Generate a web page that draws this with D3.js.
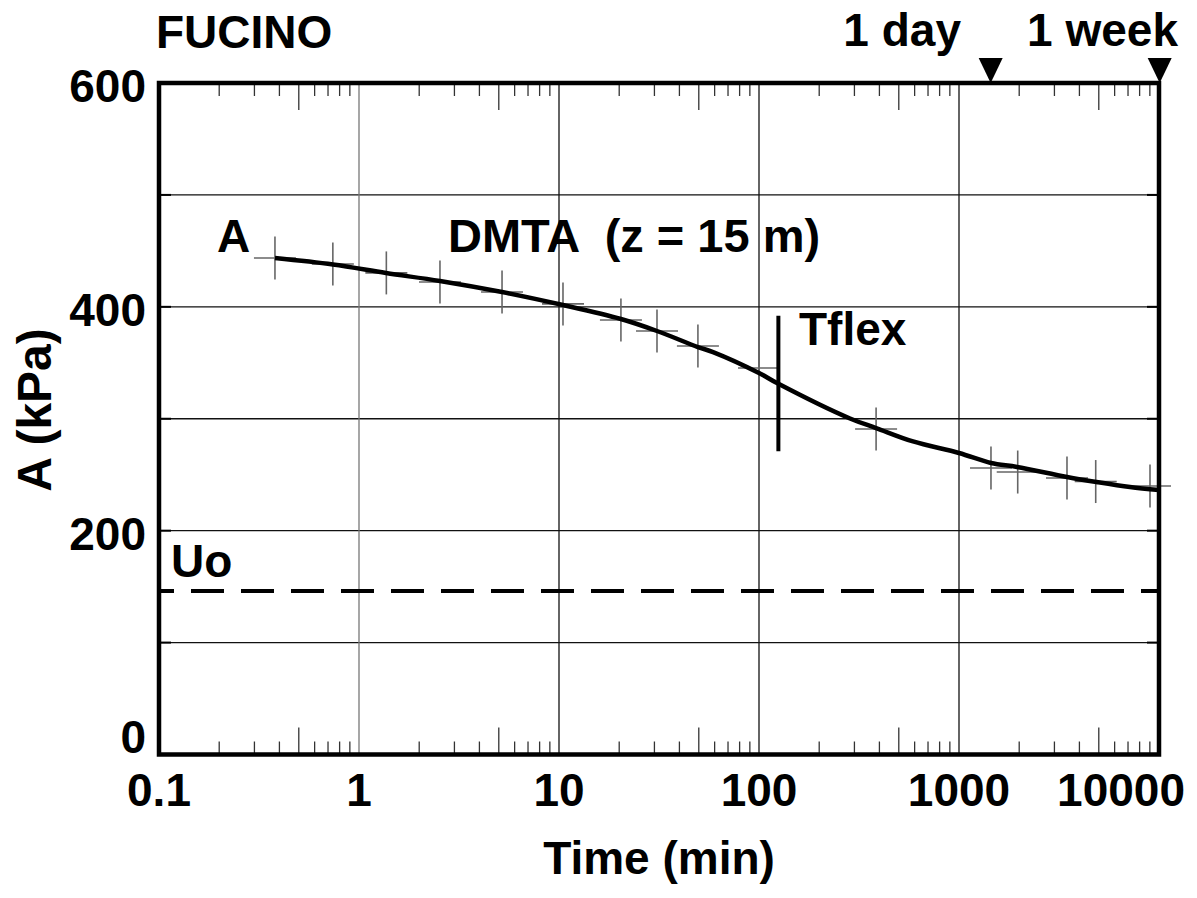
<!DOCTYPE html>
<html>
<head>
<meta charset="utf-8">
<script src="https://cdn.jsdelivr.net/npm/d3@7"></script>
<style>
  body { margin: 0; background: #fff; }
  text { font-family: "Liberation Sans", Arial, sans-serif; font-weight: bold; fill: #000; }
</style>
</head>
<body>
<svg id="chart" width="1197" height="898"></svg>
<script>
// measured points (crosses)
const pointTime = [0.38, 0.74, 1.37, 2.54, 5.19, 10.47, 20.4, 30.9, 49.5, 100, 385, 1445, 1966, 3467, 4826, 9016]
const pointA = [443.6, 438.3, 430.3, 422.2, 413.3, 402.6, 388.3, 378.4, 365.0, 345.4, 290.9, 256.0, 252.4, 247.1, 243.9, 239.9]

// fitted DMTA curve
const curveTime = [0.38, 0.741, 1.365, 2.54, 5.19, 10.47, 20.4, 30.9, 49.5, 58.9, 100, 123, 285, 385, 589, 1000, 1445, 1950, 3467, 4870, 7160, 10000]
const curveA = [443.6, 437.8, 430.2, 423.1, 413.2, 401.6, 389.1, 378.4, 364.1, 359.6, 340.9, 331.9, 300.2, 291.7, 279.7, 269.4, 260.5, 256.9, 248.0, 243.5, 239.0, 236.3]

const xTickValues = [0.1, 1, 10, 100, 1000, 10000]
const xTickLabels = ["0.1", "1", "10", "100", "1000", "10000"]
const yTickValues = [0, 200, 400, 600]
const yGrid = [100, 200, 300, 400, 500]

const uo = 146
const tflexTime = 125
const tflexRange = [271, 392]
const markers = [{label: "1 day", t: 1440}, {label: "1 week", t: 10080}]

const pLeft = 159, pRight = 1159, pTop = 83, pBottom = 754.5

const svg = d3.select("#chart")

const x = d3.scaleLog().domain([0.1, 10000]).range([pLeft, pRight])
const y = d3.scaleLinear().domain([0, 600]).range([pBottom, pTop])

// grid
svg.append("g")
   .selectAll("line")
   .data(yGrid)
   .join("line")
   .attr("x1", pLeft).attr("x2", pRight)
   .attr("y1", d => y(d)).attr("y2", d => y(d))
   .style("stroke", "#111").style("stroke-width", 1.3)

svg.append("g")
   .selectAll("line")
   .data(xTickValues.slice(1, 5))
   .join("line")
   .attr("x1", d => x(d)).attr("x2", d => x(d))
   .attr("y1", pTop).attr("y2", pBottom)
   .style("stroke", (d, i) => i == 0 ? "#777" : "#111").style("stroke-width", 1.3)

// y ticks inside, both sides
let yt = svg.append("g")
yt.selectAll(".yl")
  .data(yGrid)
  .join("line")
  .attr("x1", pLeft).attr("x2", pLeft + 12)
  .attr("y1", d => y(d)).attr("y2", d => y(d))
  .style("stroke", "#000").style("stroke-width", 2)
yt.selectAll(".yr")
  .data(yGrid)
  .join("line")
  .attr("x1", pRight - 12).attr("x2", pRight)
  .attr("y1", d => y(d)).attr("y2", d => y(d))
  .style("stroke", "#000").style("stroke-width", 2)

// minor x ticks, bottom and top
let minor = x.ticks().filter(d => Math.abs(Math.log10(d) - Math.round(Math.log10(d))) > 1e-6)
let isFive = d => Math.abs(d / Math.pow(10, Math.floor(Math.log10(d) + 1e-9)) - 5) < 1e-6
let mt = svg.append("g")
mt.selectAll(".mb")
  .data(minor)
  .join("line")
  .attr("x1", d => x(d)).attr("x2", d => x(d))
  .attr("y1", pBottom)
  .attr("y2", d => pBottom - (isFive(d) ? 27 : 13))
  .style("stroke", "#333").style("stroke-width", 1.3)
mt.selectAll(".mtp")
  .data(minor)
  .join("line")
  .attr("x1", d => x(d)).attr("x2", d => x(d))
  .attr("y1", pTop)
  .attr("y2", d => pTop + (isFive(d) ? 27 : 13))
  .style("stroke", "#333").style("stroke-width", 1.3)

// Uo dashed line
svg.append("line")
   .attr("x1", pLeft).attr("x2", pRight)
   .attr("y1", y(uo)).attr("y2", y(uo))
   .style("stroke", "#000").style("stroke-width", 4)
   .style("stroke-dasharray", "33,17").style("stroke-dashoffset", 18)

// crosses
let cs = svg.append("g")
pointTime.forEach((t, i) => {
    let cx = x(t), cy = y(pointA[i])
    cs.append("line").attr("x1", cx - 21).attr("x2", cx + 21).attr("y1", cy).attr("y2", cy)
      .style("stroke", "#666").style("stroke-width", 1.6)
    cs.append("line").attr("x1", cx).attr("x2", cx).attr("y1", cy - 21.5).attr("y2", cy + 21.5)
      .style("stroke", "#666").style("stroke-width", 1.6)
})

// curve
let curveData = curveTime.map((t, i) => [t, curveA[i]])
svg.append("path")
   .datum(curveData)
   .attr("d", d3.line().x(d => x(d[0])).y(d => y(d[1])).curve(d3.curveCatmullRom))
   .style("fill", "none").style("stroke", "#000").style("stroke-width", 4.5)

// Tflex bar
svg.append("line")
   .attr("x1", x(tflexTime)).attr("x2", x(tflexTime))
   .attr("y1", y(tflexRange[0])).attr("y2", y(tflexRange[1]))
   .style("stroke", "#000").style("stroke-width", 4)

// frame
svg.append("rect")
   .attr("x", pLeft).attr("y", pTop)
   .attr("width", pRight - pLeft).attr("height", pBottom - pTop)
   .style("fill", "none").style("stroke", "#000").style("stroke-width", 4.5)

// top markers
markers.forEach(m => {
    let mx = x(m.t)
    svg.append("path")
       .attr("d", `M${mx - 12},${pTop - 25} L${mx + 12},${pTop - 25} L${mx},${pTop} Z`)
       .style("fill", "#000")
})
svg.append("text").attr("x", 961).attr("y", 46).attr("text-anchor", "end")
   .style("font-size", "46px").text(markers[0].label)
svg.append("text").attr("x", 1178).attr("y", 46).attr("text-anchor", "end")
   .style("font-size", "46px").text(markers[1].label)

svg.append("text").attr("x", 156).attr("y", 48).style("font-size", "46px").text("FUCINO")

// x tick labels
svg.append("g")
   .selectAll("text")
   .data(xTickValues)
   .join("text")
   .attr("x", (d, i) => i == 5 ? 1185 : x(d))
   .attr("y", 806)
   .attr("text-anchor", (d, i) => i == 5 ? "end" : "middle")
   .style("font-size", "46px")
   .text((d, i) => xTickLabels[i])

// y tick labels
svg.append("g")
   .selectAll("text")
   .data(yTickValues)
   .join("text")
   .attr("x", 146)
   .attr("y", d => d == 0 ? y(d) - 2 : y(d) + 19)
   .attr("text-anchor", "end")
   .style("font-size", "46px")
   .text(d => d)

// axis titles
svg.append("text").attr("x", (pLeft + pRight) / 2).attr("y", 874).attr("text-anchor", "middle")
   .style("font-size", "46px").text("Time (min)")
svg.append("text").attr("transform", "translate(51,410) rotate(-90)").attr("text-anchor", "middle")
   .style("font-size", "48px").text("A (kPa)")

// annotations
svg.append("text").attr("x", 217).attr("y", 252).style("font-size", "46px").text("A")
svg.append("text").attr("x", 448).attr("y", 252).style("font-size", "47px")
   .style("white-space", "pre").text("DMTA  (z = 15 m)")
svg.append("text").attr("x", 799).attr("y", 345).style("font-size", "46px").text("Tflex")
svg.append("text").attr("x", 171).attr("y", 577).style("font-size", "46px").text("Uo")
</script>
</body>
</html>
